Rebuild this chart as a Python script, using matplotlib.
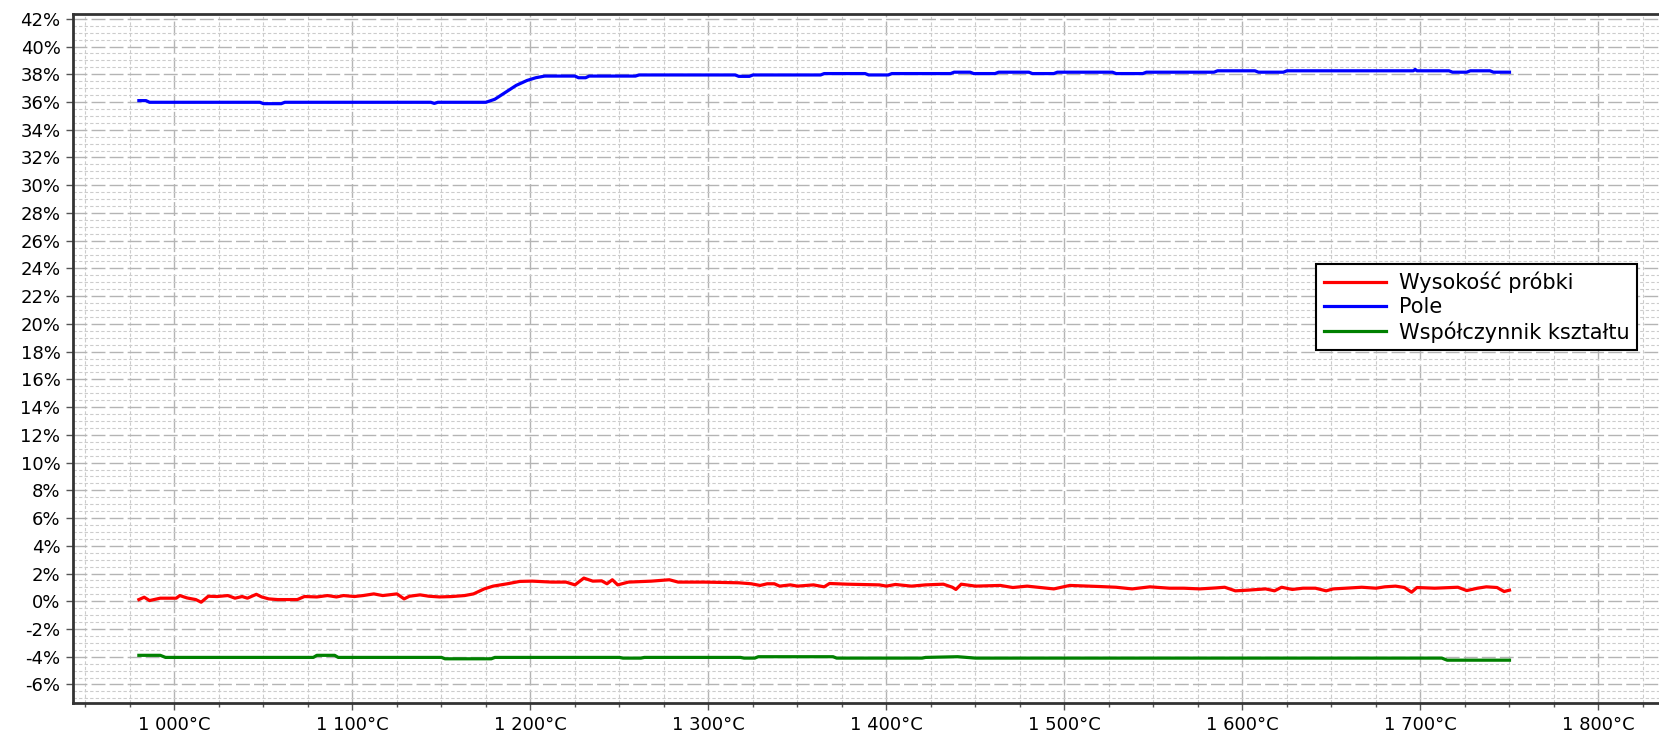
import matplotlib.pyplot as plt
from matplotlib.ticker import MultipleLocator, FuncFormatter

# Wysokość próbki (red)
red_t = [980, 983, 986, 992, 1001, 1003, 1007, 1012, 1015, 1019, 1024, 1030, 1034, 1038,
         1041, 1046, 1049, 1053, 1058, 1069, 1073, 1080, 1086, 1091, 1095, 1101, 1106,
         1112, 1117, 1125, 1129, 1132, 1138, 1143, 1149, 1156, 1163, 1168, 1174, 1179,
         1187, 1194, 1201, 1212, 1220, 1225, 1230, 1235, 1240, 1243, 1246, 1249, 1255,
         1268, 1278, 1283, 1298, 1317, 1324, 1329, 1333, 1337, 1340, 1346, 1350, 1359,
         1365, 1368, 1378, 1396, 1400, 1405, 1414, 1422, 1432, 1437, 1439, 1442, 1450,
         1464, 1471, 1479, 1494, 1503, 1520, 1529, 1538, 1548, 1559, 1567, 1576, 1585,
         1590, 1596, 1603, 1613, 1618, 1622, 1628, 1634, 1641, 1647, 1651, 1658, 1667,
         1675, 1680, 1686, 1691, 1695, 1698, 1708, 1721, 1726, 1732, 1737, 1743, 1747,
         1750]
red_v = [0.12, 0.29, 0.05, 0.22, 0.22, 0.41, 0.24, 0.12, -0.07, 0.36, 0.34, 0.41, 0.22,
         0.34, 0.22, 0.50, 0.31, 0.17, 0.12, 0.12, 0.34, 0.31, 0.41, 0.31, 0.41, 0.34,
         0.41, 0.53, 0.41, 0.53, 0.17, 0.36, 0.46, 0.36, 0.31, 0.34, 0.41, 0.53, 0.89,
         1.09, 1.26, 1.43, 1.45, 1.38, 1.38, 1.18, 1.67, 1.45, 1.47, 1.26, 1.55, 1.18,
         1.38, 1.45, 1.55, 1.38, 1.38, 1.33, 1.26, 1.14, 1.26, 1.26, 1.09, 1.18, 1.09,
         1.18, 1.04, 1.28, 1.23, 1.18, 1.09, 1.21, 1.09, 1.18, 1.23, 1.01, 0.85, 1.23,
         1.09, 1.14, 0.99, 1.09, 0.89, 1.14, 1.06, 1.01, 0.89, 1.04, 0.94, 0.94, 0.89,
         0.96, 1.01, 0.75, 0.80, 0.89, 0.75, 1.01, 0.85, 0.94, 0.94, 0.75, 0.89, 0.94,
         1.01, 0.94, 1.04, 1.09, 0.99, 0.65, 0.99, 0.94, 1.01, 0.77, 0.94, 1.04, 0.99,
         0.70, 0.80]

# Pole (blue)
blue_t = [980, 984, 986, 1048, 1050, 1060, 1062, 1144, 1146, 1148, 1175, 1180, 1186,
          1192, 1198, 1203, 1208, 1225, 1227, 1231, 1233, 1259, 1261, 1315, 1317, 1323,
          1325, 1363, 1365, 1388, 1390, 1401, 1403, 1436, 1438, 1447, 1449, 1461, 1463,
          1480, 1482, 1494, 1496, 1527, 1529, 1544, 1546, 1584, 1586, 1607, 1609, 1623,
          1625, 1696, 1697, 1698, 1716, 1718, 1726, 1728, 1739, 1741, 1750]
blue_v = [36.10, 36.10, 35.98, 35.98, 35.88, 35.88, 35.98, 35.98, 35.90, 35.98, 35.98,
          36.20, 36.70, 37.20, 37.55, 37.75, 37.87, 37.87, 37.75, 37.75, 37.87, 37.87,
          37.95, 37.95, 37.85, 37.85, 37.95, 37.95, 38.05, 38.05, 37.95, 37.95, 38.05,
          38.05, 38.15, 38.15, 38.05, 38.05, 38.15, 38.15, 38.05, 38.05, 38.15, 38.15,
          38.05, 38.05, 38.15, 38.15, 38.25, 38.25, 38.15, 38.15, 38.25, 38.25, 38.35,
          38.25, 38.25, 38.15, 38.15, 38.25, 38.25, 38.15, 38.15]

# Współczynnik kształtu (green)
green_t = [980, 992, 995, 1078, 1080, 1090, 1092, 1150, 1152, 1178, 1180, 1250, 1252,
           1262, 1264, 1318, 1320, 1326, 1328, 1370, 1372, 1420, 1422, 1440, 1450, 1712,
           1715, 1750]
green_v = [-3.90, -3.90, -4.05, -4.05, -3.90, -3.90, -4.05, -4.05, -4.15, -4.15, -4.05,
           -4.05, -4.10, -4.10, -4.05, -4.05, -4.10, -4.10, -4.00, -4.00, -4.10, -4.10,
           -4.05, -4.00, -4.10, -4.10, -4.25, -4.25]

labels = ['Wysokość próbki', 'Pole', 'Współczynnik kształtu']
colors = ['#ff0000', '#0000ff', '#008000']

fig = plt.figure(figsize=(16.59, 7.34), dpi=100)
ax = fig.add_axes([0.044, 0.042, 0.956, 0.939])

for t, v, lab, c in zip([red_t, blue_t, green_t], [red_v, blue_v, green_v], labels, colors):
    ax.plot(t, v, color=c, lw=2.3, label=lab, zorder=3)

ax.set_xlim(943, 1834)
ax.set_ylim(-7.35, 42.35)

ax.xaxis.set_major_locator(MultipleLocator(100))
ax.xaxis.set_minor_locator(MultipleLocator(25))
ax.yaxis.set_major_locator(MultipleLocator(2))
ax.yaxis.set_minor_locator(MultipleLocator(0.5))
ax.xaxis.set_major_formatter(FuncFormatter(lambda v, p: f'{int(v) // 1000} {int(v) % 1000:03d}°C'))
ax.yaxis.set_major_formatter(FuncFormatter(lambda v, p: f'{v:.0f}%'))

ax.grid(which='major', color='#b4b4b4', lw=1.0, linestyle=(0, (10, 3)))
ax.grid(which='minor', color='#cccccc', lw=0.8, linestyle=(0, (3, 2)))
ax.set_axisbelow(True)

ax.tick_params(which='major', labelsize=13, length=5, width=1, color='#555555', pad=4)
ax.tick_params(axis='x', which='major', pad=4)
ax.tick_params(which='minor', length=3, width=1, color='#555555')
ax.tick_params(axis='y', which='minor', length=0)

for side in ['left', 'bottom', 'top']:
    ax.spines[side].set_linewidth(2)
    ax.spines[side].set_color('#333333')
ax.spines['right'].set_visible(False)

leg = ax.legend(loc='upper left', bbox_to_anchor=(0.784, 0.637), fontsize=15,
                frameon=True, fancybox=False, handlelength=3.0, handletextpad=0.6,
                labelspacing=0.2, borderpad=0.35, borderaxespad=0)
leg.get_frame().set_edgecolor('#000000')
leg.get_frame().set_linewidth(1.5)
leg.get_frame().set_alpha(1)

fig.savefig('out.png', dpi=100)
